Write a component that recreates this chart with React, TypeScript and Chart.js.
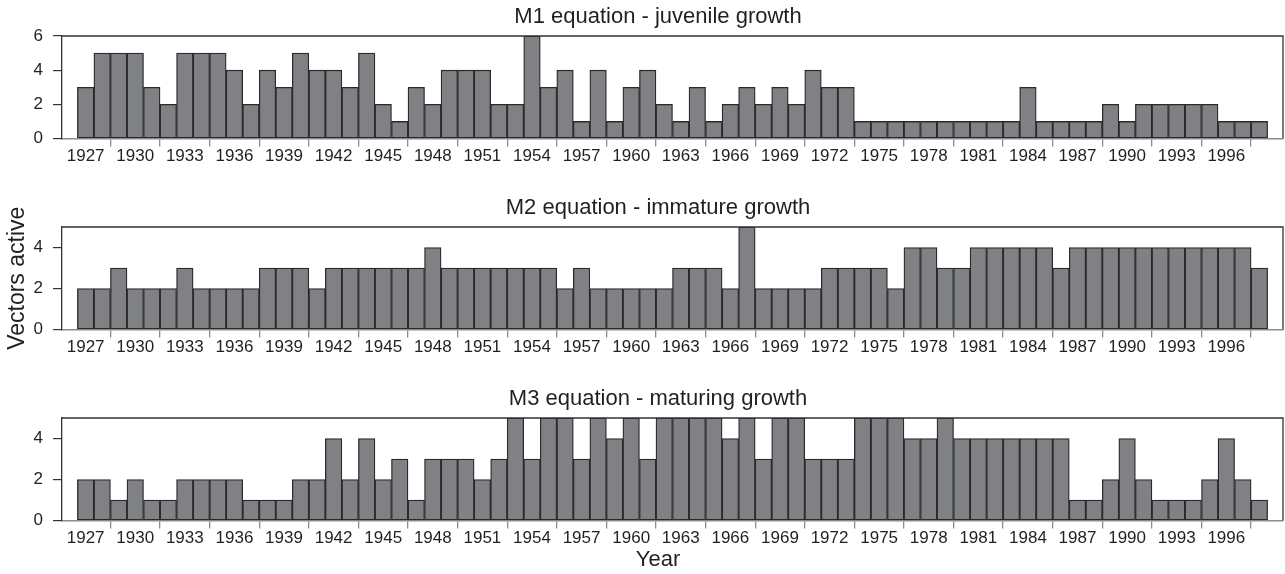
import React, { useEffect, useRef } from 'react';
import { Chart, registerables } from 'chart.js';

Chart.register(...registerables);

const YEARS = [
  1927, 1928, 1929, 1930, 1931, 1932, 1933, 1934, 1935, 1936,
  1937, 1938, 1939, 1940, 1941, 1942, 1943, 1944, 1945, 1946,
  1947, 1948, 1949, 1950, 1951, 1952, 1953, 1954, 1955, 1956,
  1957, 1958, 1959, 1960, 1961, 1962, 1963, 1964, 1965, 1966,
  1967, 1968, 1969, 1970, 1971, 1972, 1973, 1974, 1975, 1976,
  1977, 1978, 1979, 1980, 1981, 1982, 1983, 1984, 1985, 1986,
  1987, 1988, 1989, 1990, 1991, 1992, 1993, 1994, 1995, 1996,
  1997, 1998,
];

const TICK_YEARS = [
  1927, 1930, 1933, 1936, 1939, 1942, 1945, 1948, 1951, 1954, 1957, 1960,
  1963, 1966, 1969, 1972, 1975, 1978, 1981, 1984, 1987, 1990, 1993, 1996,
];

const M1_JUVENILE = [
  3, 5, 5, 5, 3, 2, 5, 5, 5, 4,
  2, 4, 3, 5, 4, 4, 3, 5, 2, 1,
  3, 2, 4, 4, 4, 2, 2, 6, 3, 4,
  1, 4, 1, 3, 4, 2, 1, 3, 1, 2,
  3, 2, 3, 2, 4, 3, 3, 1, 1, 1,
  1, 1, 1, 1, 1, 1, 1, 3, 1, 1,
  1, 1, 2, 1, 2, 2, 2, 2, 2, 1,
  1, 1,
];

const M2_IMMATURE = [
  2, 2, 3, 2, 2, 2, 3, 2, 2, 2,
  2, 3, 3, 3, 2, 3, 3, 3, 3, 3,
  3, 4, 3, 3, 3, 3, 3, 3, 3, 2,
  3, 2, 2, 2, 2, 2, 3, 3, 3, 2,
  5, 2, 2, 2, 2, 3, 3, 3, 3, 2,
  4, 4, 3, 3, 4, 4, 4, 4, 4, 3,
  4, 4, 4, 4, 4, 4, 4, 4, 4, 4,
  4, 3,
];

const M3_MATURING = [
  2, 2, 1, 2, 1, 1, 2, 2, 2, 2,
  1, 1, 1, 2, 2, 4, 2, 4, 2, 3,
  1, 3, 3, 3, 2, 3, 5, 3, 5, 5,
  3, 5, 4, 5, 3, 5, 5, 5, 5, 4,
  5, 3, 5, 5, 3, 3, 3, 5, 5, 5,
  4, 4, 5, 4, 4, 4, 4, 4, 4, 4,
  1, 1, 2, 4, 2, 1, 1, 1, 2, 4,
  2, 1,
];

const TITLES = [
  'M1 equation - juvenile growth',
  'M2 equation - immature growth',
  'M3 equation - maturing growth',
];
const Y_TITLE = 'Vectors active';
const X_TITLE = 'Year';

const X_MIN = 1925.57;
const X_MAX = 1999.43;

const FONT = "'Liberation Sans', Arial, Helvetica, sans-serif";
const TEXT = '#231f20';
const BAR_FILL = '#808185';
const BAR_EDGE = '#2a2a2a';
const FRAME = '#333333';
const X_AXIS = '#8c8c8c';

const AREA_H = 102.5;
const HEAD_H = 36;
const PAD_LEFT = 33;
const Y_AXIS_W = 62 - PAD_LEFT;
const TITLE_SIZE = 22;
const TICK_SIZE = 17;

type PanelSpec = {
  title: string;
  values: number[];
  yMax: number;
  top: number;
  height: number;
  yTitle?: string;
  xTitle?: string;
};

const PANELS: PanelSpec[] = [
  { title: TITLES[0], values: M1_JUVENILE, yMax: 6, top: 0, height: 191 },
  { title: TITLES[1], values: M2_IMMATURE, yMax: 5, top: 191, height: 191, yTitle: Y_TITLE },
  { title: TITLES[2], values: M3_MATURING, yMax: 5, top: 382, height: 192, xTitle: X_TITLE },
];

const framePlugin = {
  id: 'frameTopRight',
  afterDraw(chart: any) {
    const { ctx, chartArea } = chart;
    ctx.save();
    ctx.strokeStyle = FRAME;
    ctx.lineWidth = 1.3;
    ctx.beginPath();
    ctx.moveTo(chartArea.left, chartArea.top);
    ctx.lineTo(chartArea.right, chartArea.top);
    ctx.lineTo(chartArea.right, chartArea.bottom);
    ctx.stroke();
    ctx.restore();
  },
};

function yTitlePlugin(text: string) {
  return {
    id: 'sharedYTitle',
    afterDraw(chart: any) {
      const { ctx, chartArea } = chart;
      const cy = (chartArea.top + chartArea.bottom) / 2;
      ctx.save();
      ctx.translate(24, cy);
      ctx.rotate(-Math.PI / 2);
      ctx.font = `23px ${FONT}`;
      ctx.fillStyle = TEXT;
      ctx.textAlign = 'center';
      ctx.textBaseline = 'alphabetic';
      ctx.fillText(text, 0, 0);
      ctx.restore();
    },
  };
}

function Panel({ spec }: { spec: PanelSpec }) {
  const ref = useRef<HTMLCanvasElement | null>(null);

  useEffect(() => {
    if (!ref.current) return;
    const subH = spec.xTitle ? TITLE_SIZE * 1.2 + 1.2 : 0;
    const xAxisH = spec.height - HEAD_H - AREA_H - subH;
    const plugins: any[] = [framePlugin];
    if (spec.yTitle) plugins.push(yTitlePlugin(spec.yTitle));

    const chart = new Chart(ref.current, {
      type: 'bar',
      data: {
        datasets: [
          {
            data: YEARS.map((yr, i) => ({ x: yr, y: spec.values[i] })),
            backgroundColor: BAR_FILL,
            borderColor: BAR_EDGE,
            borderWidth: 1.3,
            borderSkipped: false,
            barPercentage: 1,
            categoryPercentage: 1,
          } as any,
        ],
      },
      options: {
        animation: false,
        responsive: false,
        maintainAspectRatio: false,
        layout: { padding: { left: PAD_LEFT, right: 2, top: 0, bottom: 0 } },
        plugins: {
          legend: { display: false },
          tooltip: { enabled: false },
          title: {
            display: true,
            text: spec.title,
            color: TEXT,
            font: { family: FONT, size: TITLE_SIZE, weight: 'normal' as any, lineHeight: 1.2 },
            padding: { top: 4, bottom: HEAD_H - 4 - TITLE_SIZE * 1.2 },
          },
          subtitle: {
            display: !!spec.xTitle,
            text: spec.xTitle || '',
            position: 'bottom',
            color: TEXT,
            font: { family: FONT, size: TITLE_SIZE, weight: 'normal' as any, lineHeight: 1.2 },
            padding: { top: 0, bottom: 1.2 },
          },
        },
        scales: {
          x: {
            type: 'linear',
            min: X_MIN,
            max: X_MAX,
            offset: false,
            afterBuildTicks: (s: any) => {
              s.ticks = TICK_YEARS.map((v) => ({ value: v }));
            },
            afterFit: (s: any) => {
              s.height = xAxisH;
            },
            ticks: {
              callback: (v: any) => String(v),
              color: TEXT,
              font: { family: FONT, size: TICK_SIZE },
              padding: 0,
              maxRotation: 0,
              autoSkip: false,
            },
            grid: {
              drawOnChartArea: false,
              drawTicks: true,
              tickLength: 8,
              color: X_AXIS,
              lineWidth: 1.3,
            },
            border: { display: true, color: X_AXIS, width: 1.5 },
          },
          y: {
            min: 0,
            max: spec.yMax,
            afterFit: (s: any) => {
              s.width = Y_AXIS_W;
            },
            ticks: {
              stepSize: 1,
              callback: (v: any) => (Number(v) % 2 === 0 ? String(v) : ''),
              color: TEXT,
              font: { family: FONT, size: TICK_SIZE },
              padding: 10,
            },
            grid: {
              drawOnChartArea: false,
              drawTicks: true,
              tickLength: 9,
              color: FRAME,
              lineWidth: 1.2,
            },
            border: { display: true, color: FRAME, width: 1.3 },
          },
        },
      } as any,
      plugins,
    });
    return () => chart.destroy();
  }, [spec]);

  return (
    <div style={{ position: 'absolute', left: 0, top: spec.top, width: 1285, height: spec.height }}>
      <canvas ref={ref} width={1285} height={spec.height} style={{ display: 'block' }} />
    </div>
  );
}

export default function App() {
  return (
    <div
      style={{
        position: 'fixed',
        left: 0,
        top: 0,
        width: 1285,
        height: 574,
        background: '#ffffff',
        overflow: 'hidden',
      }}
    >
      {PANELS.map((p) => (
        <Panel key={p.title} spec={p} />
      ))}
    </div>
  );
}
